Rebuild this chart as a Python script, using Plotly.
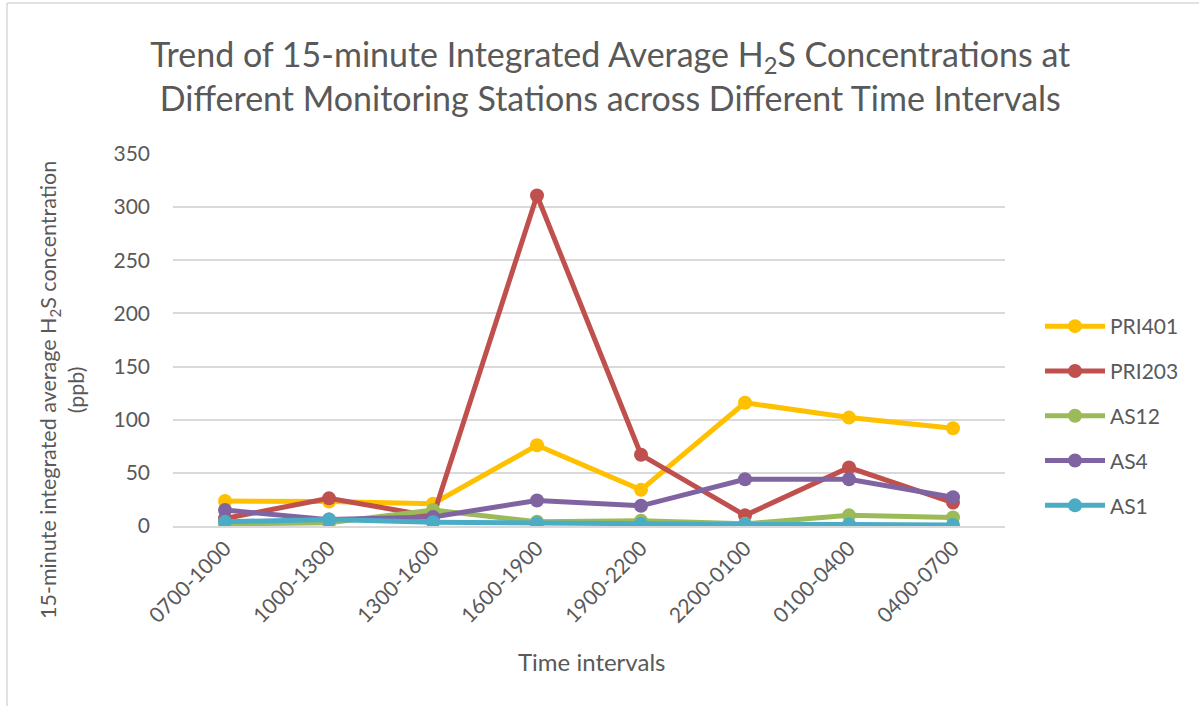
import plotly.graph_objects as go

categories = ["0700-1000", "1000-1300", "1300-1600", "1600-1900",
              "1900-2200", "2200-0100", "0100-0400", "0400-0700"]
pri401 = [23.5, 23, 21, 76, 34, 116, 102, 92]
pri203 = [7, 26, 9, 311, 67, 10, 55, 22]
as12 = [2, 3, 15, 4, 5, 2, 10, 8]
as4 = [15, 6, 8.5, 24, 19, 44, 44, 27]
as1 = [4, 6, 3.5, 2.5, 2, 1.5, 1.5, 1]

series = [
    ("PRI401", pri401, "#FFC000"),
    ("PRI203", pri203, "#C0504D"),
    ("AS12", as12, "#9BBB59"),
    ("AS4", as4, "#8064A2"),
    ("AS1", as1, "#4BACC6"),
]

fig = go.Figure()
for name, vals, color in series:
    fig.add_trace(go.Scatter(
        x=categories, y=vals, name=name, mode="lines+markers",
        legendgroup=name,
        line=dict(color=color, width=5),
        marker=dict(color=color, size=14),
    ))

font_family = "Lato, 'Open Sans', sans-serif"
W, H = 1199, 706
L, R, T, B = 173, 194, 154, 180
pw, ph = W - L - R, H - T - B

def px_x(p):
    return (p - L) / pw

def px_y(p):
    return (H - B - p) / ph

fig.update_layout(
    width=W, height=H,
    paper_bgcolor="white", plot_bgcolor="white",
    margin=dict(l=L, r=R, t=T, b=B, autoexpand=False),
    font=dict(family=font_family, color="#595959", size=21),
    title=dict(
        text="Trend of 15-minute Integrated Average H<sub>2</sub>S Concentrations at<br>Different Monitoring Stations across Different Time Intervals",
        x=0.509, xanchor="center", y=(H - 67) / H, yanchor="middle",
        font=dict(size=34, color="#595959", family=font_family),
    ),
    xaxis=dict(
        tickangle=-45, showgrid=False, showline=True, linecolor="#D9D9D9",
        linewidth=1.5, ticks="", tickfont=dict(size=21),
        range=[-0.5, 7.5],
    ),
    yaxis=dict(
        range=[0, 350], dtick=50, showgrid=True, gridcolor="#D9D9D9",
        gridwidth=1.5, zeroline=False, ticks="", tickfont=dict(size=21),
        ticklabelstandoff=22,
    ),
    legend=dict(
        x=px_x(1040), y=px_y(416), xanchor="left", yanchor="middle",
        font=dict(size=21, color="#595959"), tracegroupgap=14.5,
        itemwidth=60, bgcolor="rgba(0,0,0,0)",
    ),
    showlegend=True,
)

fig.add_annotation(
    text="Time intervals", xref="paper", yref="paper",
    x=px_x(591), y=px_y(661), xanchor="center", yanchor="middle",
    showarrow=False, font=dict(size=24, color="#595959"),
)
fig.add_annotation(
    text="15-minute integrated average H<sub>2</sub>S concentration<br>(ppb)",
    xref="paper", yref="paper", textangle=-90,
    x=px_x(62), y=px_y(390), xanchor="center", yanchor="middle",
    showarrow=False, font=dict(size=21.5, color="#595959"),
)

# chart-area border (light gray) on the left and top
fig.add_shape(type="line", xref="paper", yref="paper",
              x0=px_x(7), x1=px_x(7), y0=px_y(706), y1=px_y(3),
              line=dict(color="#D9D9D9", width=1.5))
fig.add_shape(type="line", xref="paper", yref="paper",
              x0=px_x(7), x1=px_x(1199), y0=px_y(3), y1=px_y(3),
              line=dict(color="#D9D9D9", width=1.5))

fig.write_html("out.html", config={"displayModeBar": False},
               post_script="document.body.style.margin='0';")
